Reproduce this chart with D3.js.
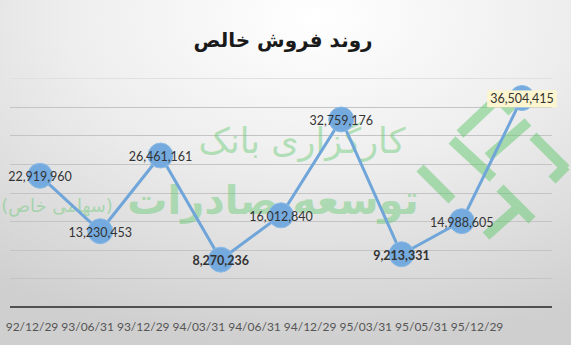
<!DOCTYPE html>
<html><head><meta charset="utf-8">
<script src="https://cdn.jsdelivr.net/npm/d3@7"></script>
<style>body{margin:0;background:#fff}svg{display:block}</style>
</head><body>
<svg id="chart" width="571" height="345"></svg>
<script>
const categories = ["92/12/29","93/06/31","93/12/29","94/03/31","94/06/31","94/12/29","95/03/31","95/05/31","95/12/29"];
const salesValues = [22919960,13230453,26461161,8270236,16012840,32759176,9213331,14988605,36504415];
const boldLabel = [false,false,false,true,false,false,true,false,false];
const boxedLabel = [false,false,false,false,false,false,false,false,true];
const yTickValues = [0,5000000,10000000,15000000,20000000,25000000,30000000,35000000,40000000];
const titleText = "روند فروش خالص";
const watermark1 = "کارگزاری بانک";
const watermark2 = "توسعه صادرات";
const watermark3 = "(سهامی خاص)";

const W = 571, H = 345;
const svg = d3.select("#chart");
const defs = svg.append("defs");
const rg = defs.append("radialGradient").attr("id","bg")
  .attr("cx","55%").attr("cy","5%").attr("r","95%");
rg.append("stop").attr("offset","0").attr("stop-color","#ffffff");
rg.append("stop").attr("offset","0.45").attr("stop-color","#eeeeee");
rg.append("stop").attr("offset","1").attr("stop-color","#cfcfcf");
svg.append("rect").attr("width",W).attr("height",H).attr("fill","url(#bg)");

const x = d3.scalePoint().domain(categories).range([40,522]);
const xLab = d3.scalePoint().domain(categories).range([32,477]);
const y = d3.scaleLinear().domain([0,40000000]).range([307,78]);

// gridlines
svg.append("g").selectAll("line").data(yTickValues.filter(d=>d>0)).join("line")
  .attr("x1",10).attr("x2",552)
  .attr("y1",d=>Math.round(y(d))+0.5).attr("y2",d=>Math.round(y(d))+0.5)
  .attr("stroke",d=> d===40000000 ? "#e0e0e0" : "#c4c4c4").attr("stroke-width",1);

// watermark
const wm = svg.append("g").attr("fill","#5cc86a").attr("opacity",0.42);
wm.append("text").attr("x",302).attr("y",153).attr("text-anchor","middle")
  .attr("font-family","DejaVu Sans").attr("font-size",35).text(watermark1);
wm.append("text").attr("x",273).attr("y",214).attr("text-anchor","middle")
  .attr("font-family","DejaVu Sans").attr("font-weight","bold").attr("font-size",40).text(watermark2);
wm.append("text").attr("x",57).attr("y",212).attr("text-anchor","middle")
  .attr("font-family","DejaVu Sans").attr("font-size",18).text(watermark3);
const logo = svg.append("g").attr("stroke","#5cc86a").attr("opacity",0.48)
  .attr("stroke-width",10).attr("fill","none");
[[[452,140],[493,178]],[[460,134],[498,98]],[[498,98],[512,112]],
 [[488,157],[528,122]],[[533,136],[566,169]],[[552,180],[566,166]],
 [[420,168],[452,200]],[[486,236],[522,204]],[[500,188],[532,220]]]
 .forEach(s=>logo.append("path").attr("d",d3.line()(s)));

// axis line
svg.append("line").attr("x1",10).attr("x2",552)
  .attr("y1",y(0)).attr("y2",y(0)).attr("stroke","#505050").attr("stroke-width",2);

// x labels
svg.append("g").selectAll("text").data(categories).join("text")
  .attr("x",d=>xLab(d)).attr("y",327).attr("dy","0.35em").attr("text-anchor","middle")
  .attr("font-family","Lato").attr("font-size",12).attr("fill","#555555").text(d=>d);

const pts = categories.map((c,i)=>({c,v:salesValues[i],b:boldLabel[i],box:boxedLabel[i]}));

// line
svg.append("path").datum(pts)
  .attr("d",d3.line().x(d=>x(d.c)).y(d=>y(d.v)))
  .attr("fill","none").attr("stroke","#6fa5d9").attr("stroke-width",3);

// markers
svg.append("g").selectAll("circle").data(pts).join("circle")
  .attr("cx",d=>x(d.c)).attr("cy",d=>y(d.v)).attr("r",12.5)
  .attr("fill","#74aade").attr("stroke","#8cbbe6").attr("stroke-width",1);

// labels
const fmt = d3.format(",");
const lg = svg.append("g");
pts.forEach(d=>{
  const g = lg.append("g");
  const t = g.append("text").attr("x",x(d.c)).attr("y",y(d.v)+1).attr("dy","0.35em")
    .attr("text-anchor","middle").attr("font-family","Lato")
    .attr("font-size",12.5).attr("font-weight",d.b?"bold":"normal")
    .attr("fill","#333333").text(fmt(d.v));
  if(d.box){
    const bb = t.node().getBBox();
    g.insert("rect","text").attr("x",bb.x-3).attr("y",bb.y-1)
      .attr("width",bb.width+6).attr("height",bb.height+2).attr("fill","#fdf5cf");
  }
});

// title
svg.append("text").attr("x",283).attr("y",47).attr("text-anchor","middle")
  .attr("font-family","DejaVu Sans").attr("font-weight","bold").attr("font-size",20)
  .attr("fill","#1a1a1a").text(titleText);
</script>
</body></html>
